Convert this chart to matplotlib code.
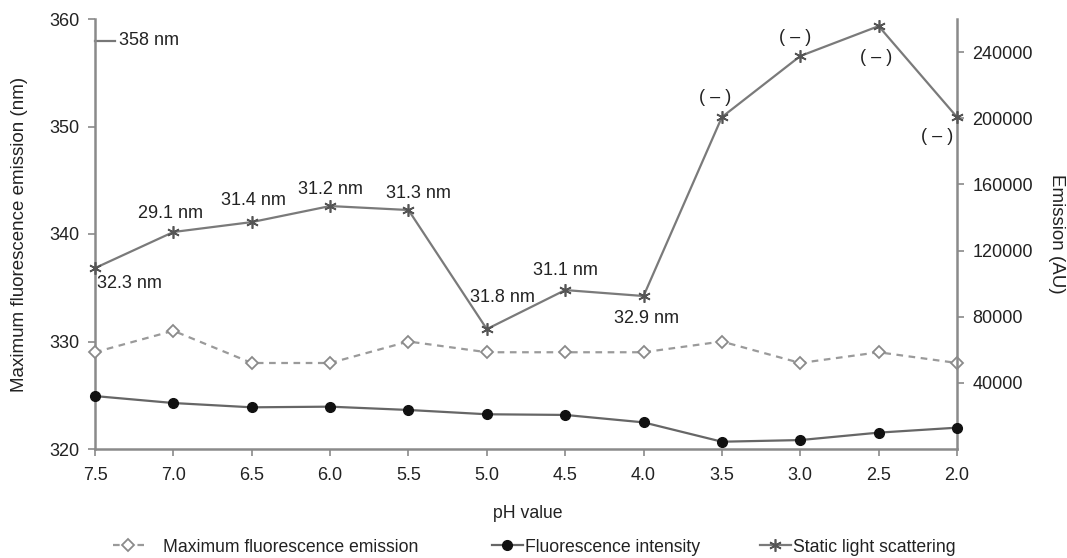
import matplotlib
matplotlib.use("Agg")
import matplotlib.pyplot as plt
from matplotlib.lines import Line2D

plt.rcParams['font.family'] = ['Liberation Sans', 'DejaVu Sans']

ph_labels = ["7.5", "7.0", "6.5", "6.0", "5.5", "5.0", "4.5", "4.0", "3.5", "3.0", "2.5", "2.0"]
max_emission_nm = [329, 331, 328, 328, 330, 329, 329, 329, 330, 328, 329, 328]
fluor_intensity = [32000, 27800, 25200, 25600, 23600, 21000, 20600, 16100, 4400, 5400, 9900, 12900]
light_scattering = [109400, 131200, 137200, 146900, 144500, 72500, 96100, 92500, 200700, 237600, 255700, 200700]
scatter_labels = ["32.3 nm", "29.1 nm", "31.4 nm", "31.2 nm", "31.3 nm", "31.8 nm",
                  "31.1 nm", "32.9 nm", "( – )", "( – )", "( – )", "( – )"]
label_offsets = [(2, -15), (-3, 19), (2, 22), (0, 17), (10, 17), (16, 32),
                 (0, 20), (3, -22), (-7, 20), (-5, 19), (-3, -31), (-20, -19)]
label_ha = ["left"] + ["center"] * 11
marker_line_nm = 358

W, H = 1067, 558
fig = plt.figure(figsize=(W / 100, H / 100), dpi=100)
ax = fig.add_axes([95 / W, 1 - 449 / H, (957 - 95) / W, (449 - 19) / H])
ax2 = ax.twinx()

x = list(range(len(ph_labels)))
spine_col = "#8a8a8a"
text_col = "#222222"

ax.plot(x, max_emission_nm, linestyle=(0, (3, 2.5)), color="#9a9a9a", lw=1.6,
        marker="D", markersize=6.5, markerfacecolor="white", markeredgecolor="#8a8a8a",
        markeredgewidth=1.3, zorder=3, clip_on=False)
ax2.plot(x, fluor_intensity, color="#666666", lw=1.6, marker="o", markersize=7,
         markerfacecolor="#111111", markeredgecolor="#111111", zorder=3, clip_on=False)
ax2.plot(x, light_scattering, color="#7a7a7a", lw=1.6, marker=(6, 2, 0), markersize=9,
         markeredgecolor="#555555", markeredgewidth=1.2, zorder=3, clip_on=False)

for xi, yi, lab, off, ha in zip(x, light_scattering, scatter_labels, label_offsets, label_ha):
    ax2.annotate(lab, (xi, yi), xytext=off, textcoords="offset pixels",
                 ha=ha, va="center", fontsize=13, color=text_col)

ax.set_xlim(0, len(ph_labels) - 1)
ax.set_ylim(320, 360)
ax2.set_ylim(0, 260000)
ax.set_xticks(x)
ax.set_xticklabels(ph_labels)
ax.set_yticks([320, 330, 340, 350, 360])
ax2.set_yticks([40000, 80000, 120000, 160000, 200000, 240000])

# 358 nm marker on the left axis
ax.plot([0, 0.25], [marker_line_nm, marker_line_nm], color="#777777", lw=1.6, clip_on=False)
ax.annotate(f"{marker_line_nm} nm", (0.25, marker_line_nm), xytext=(4, 0),
            textcoords="offset pixels", ha="left", va="center", fontsize=13, color=text_col)

for a in (ax, ax2):
    for s in a.spines.values():
        s.set_visible(False)
ax.spines["left"].set_visible(True)
ax.spines["bottom"].set_visible(True)
ax2.spines["right"].set_visible(True)
for s in (ax.spines["left"], ax.spines["bottom"], ax2.spines["right"]):
    s.set_color(spine_col)
    s.set_linewidth(1.8)

ax.tick_params(axis="both", colors=spine_col, labelcolor=text_col, labelsize=13,
               length=5, width=1.2)
ax.tick_params(axis="x", pad=8)
ax.tick_params(axis="y", pad=6)
ax2.tick_params(axis="y", colors=spine_col, labelcolor=text_col, labelsize=13,
                length=5, width=1.2, pad=6)

fig.text(20 / W, 1 - 234 / H, "Maximum fluorescence emission (nm)", rotation=90,
         ha="center", va="center", fontsize=13.5, color=text_col)
fig.text(1057 / W, 1 - 234 / H, "Emission (AU)", rotation=270,
         ha="center", va="center", fontsize=13.5, color=text_col)
fig.text(528 / W, 1 - 513 / H, "pH value", ha="center", va="center",
         fontsize=12.7, color=text_col)

h1 = Line2D([], [], linestyle=(0, (3, 2.5)), color="#9a9a9a", lw=1.6, marker="D",
            markersize=6.5, markerfacecolor="white", markeredgecolor="#8a8a8a", markeredgewidth=1.3)
h2 = Line2D([], [], color="#666666", lw=1.6, marker="o", markersize=7,
            markerfacecolor="#111111", markeredgecolor="#111111")
h3 = Line2D([], [], color="#7a7a7a", lw=1.6, marker=(6, 2, 0), markersize=9,
            markeredgecolor="#555555", markeredgewidth=1.2)

entries = [(h1, "Maximum fluorescence emission", 113, 1.1),
           (h2, "Fluorescence intensity", 492, 0.1),
           (h3, "Static light scattering", 760, 0.1)]
for h, lab, xpx, pad in entries:
    fig.legend([h], [lab], loc="center left", bbox_to_anchor=(xpx / W, 1 - 547 / H),
               frameon=False, borderpad=0, borderaxespad=0, handlelength=1.75,
               handletextpad=pad, fontsize=12.7, labelcolor=text_col)

fig.savefig("out.png", dpi=100)
